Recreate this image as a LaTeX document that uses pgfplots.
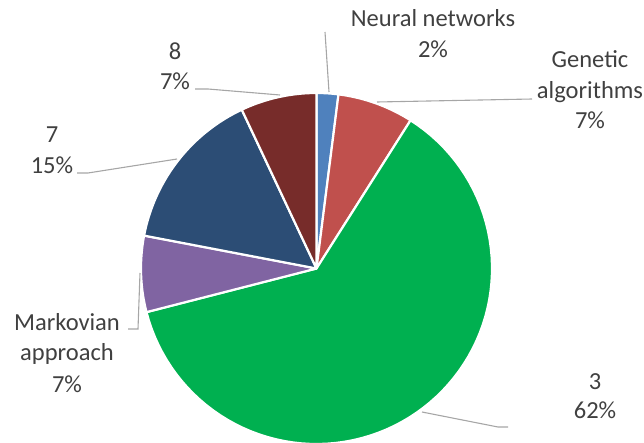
\documentclass[border=0pt]{standalone}
\usepackage{pgfplots}
\pgfplotsset{compat=1.18}
\usepackage{fontspec}
\setmainfont{Carlito}
\definecolor{cNN}{HTML}{4F81BD}
\definecolor{cGA}{HTML}{C0504D}
\definecolor{cT}{HTML}{00B050}
\definecolor{cMA}{HTML}{8064A2}
\definecolor{cS}{HTML}{2C4D75}
\definecolor{cE}{HTML}{772C2A}
\definecolor{txt}{HTML}{404040}
\definecolor{lead}{HTML}{A6A6A6}
% slice values (percent), clockwise from 12 o'clock
\def\vA{2}  % Neural networks
\def\vB{7}  % Genetic algorithms
\def\vC{62} % 3
\def\vD{7}  % Markovian approach
\def\vE{15} % 7
\def\vF{7}  % 8
\def\cx{316.5}\def\cy{268.5}\def\R{175.5}
\pgfmathsetmacro\aA{90}
\pgfmathsetmacro\aB{\aA-3.6*\vA}
\pgfmathsetmacro\aC{\aB-3.6*\vB}
\pgfmathsetmacro\aD{\aC-3.6*\vC}
\pgfmathsetmacro\aE{\aD-3.6*\vD}
\pgfmathsetmacro\aF{\aE-3.6*\vE}
\pgfmathsetmacro\aG{\aF-3.6*\vF}
\begin{document}
\begin{tikzpicture}
\begin{axis}[
  width=644bp, height=443bp, scale only axis,
  xmin=0, xmax=644, ymin=0, ymax=443, y dir=reverse,
  hide axis, clip=false,
]
\pgfplotsset{slice/.style={draw=white, line width=2.2pt, line join=round, samples=80, variable=\t}}
\addplot[slice, fill=cNN, domain=\aB:\aA] ({\cx+\R*cos(\t)},{\cy-\R*sin(\t)}) -- (axis cs:\cx,\cy) -- cycle;
\addplot[slice, fill=cGA, domain=\aC:\aB] ({\cx+\R*cos(\t)},{\cy-\R*sin(\t)}) -- (axis cs:\cx,\cy) -- cycle;
\addplot[slice, fill=cT, domain=\aD:\aC] ({\cx+\R*cos(\t)},{\cy-\R*sin(\t)}) -- (axis cs:\cx,\cy) -- cycle;
\addplot[slice, fill=cMA, domain=\aE:\aD] ({\cx+\R*cos(\t)},{\cy-\R*sin(\t)}) -- (axis cs:\cx,\cy) -- cycle;
\addplot[slice, fill=cS, domain=\aF:\aE] ({\cx+\R*cos(\t)},{\cy-\R*sin(\t)}) -- (axis cs:\cx,\cy) -- cycle;
\addplot[slice, fill=cE, domain=\aG:\aF] ({\cx+\R*cos(\t)},{\cy-\R*sin(\t)}) -- (axis cs:\cx,\cy) -- cycle;
% leader lines
\addplot[lead, line width=1.1pt, no marks] coordinates {(325,32) (329,92)};
\addplot[lead, line width=1.1pt, no marks] coordinates {(377,102) (532,99)};
\addplot[lead, line width=1.1pt, no marks] coordinates {(195,89) (208,89) (280,95)};
\addplot[lead, line width=1.1pt, no marks] coordinates {(77,173) (88,173) (177,159)};
\addplot[lead, line width=1.1pt, no marks] coordinates {(128,329) (138,329) (140,273)};
\addplot[lead, line width=1.1pt, no marks] coordinates {(422,412) (498,427) (508,427)};
% labels
\tikzset{lab/.style={anchor=base, text=txt, font=\fontsize{24.6}{31}\selectfont, inner sep=0pt}}
\node[lab] at (axis cs:433,27) {Neural networks};
\node[lab] at (axis cs:433,58) {2\%};
\node[lab] at (axis cs:590,68) {Genetic};
\node[lab] at (axis cs:590,99) {algorithms};
\node[lab] at (axis cs:590,128) {7\%};
\node[lab] at (axis cs:595,389) {3};
\node[lab] at (axis cs:595,418) {62\%};
\node[lab] at (axis cs:67,330) {Markovian};
\node[lab] at (axis cs:67,360) {approach};
\node[lab] at (axis cs:67,392) {7\%};
\node[lab] at (axis cs:52,142) {7};
\node[lab] at (axis cs:52,173) {15\%};
\node[lab] at (axis cs:175,60) {8};
\node[lab] at (axis cs:175,90) {7\%};
\end{axis}
\pgfresetboundingbox
\path (current axis.south west) rectangle (current axis.north east);
\end{tikzpicture}
\end{document}
